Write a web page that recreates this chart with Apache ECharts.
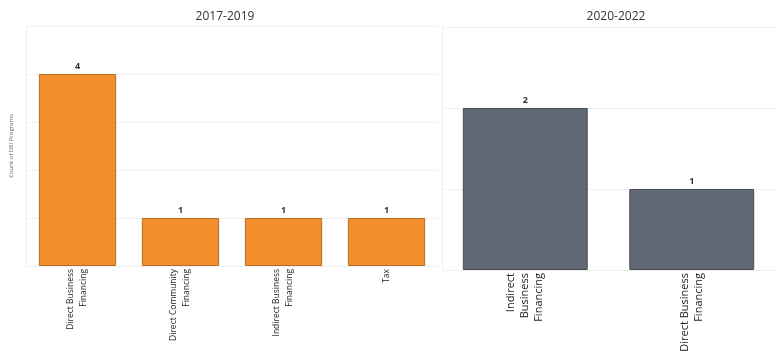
<!DOCTYPE html>
<html>
<head>
<meta charset="utf-8">
<script src="https://cdn.jsdelivr.net/npm/echarts@6/dist/echarts.min.js"></script>
<style>html,body{margin:0;padding:0;background:#fff}#c{width:780px;height:357px}</style>
</head>
<body>
<div id="c"></div>
<script>
const panelTitles = ['2017-2019', '2020-2022'];
const cats1 = ['Direct Business\nFinancing', 'Direct Community\nFinancing', 'Indirect Business\nFinancing', 'Tax'];
const vals1 = [4, 1, 1, 1];
const cats2 = ['Indirect\nBusiness\nFinancing', 'Direct Business\nFinancing'];
const vals2 = [2, 1];
const yName = 'Count of DEI Programs';

const chart = echarts.init(document.getElementById('c'));
const font = 'Open Sans';
chart.setOption({
  animation: false,
  title: [
    {text: panelTitles[0], left: 220, top: 6, textAlign: 'center', textStyle: {fontFamily: font, fontSize: 12, fontWeight: 'normal', color: '#333'}},
    {text: panelTitles[1], left: 611, top: 6, textAlign: 'center', textStyle: {fontFamily: font, fontSize: 12, fontWeight: 'normal', color: '#333'}}
  ],
  grid: [
    {left: 26, right: 342, top: 26, bottom: 91, outerBoundsMode: 'none', containLabel: false},
    {left: 442, right: 5, top: 27, bottom: 87, outerBoundsMode: 'none', containLabel: false}
  ],
  xAxis: [
    {type: 'category', gridIndex: 0, data: cats1, axisLine: {show: false}, axisTick: {show: false},
     axisLabel: {rotate: 90, interval: 0, fontFamily: font, fontSize: 8.5, lineHeight: 13, color: '#222', margin: 3}},
    {type: 'category', gridIndex: 1, data: cats2, axisLine: {show: false}, axisTick: {show: false},
     axisLabel: {rotate: 90, interval: 0, fontFamily: font, fontSize: 11, lineHeight: 14, color: '#222', margin: 3}}
  ],
  yAxis: [
    {type: 'value', gridIndex: 0, min: 0, max: 5, interval: 1, axisLabel: {show: false}, axisTick: {show: false},
     axisLine: {show: true, lineStyle: {color: '#eeeeee'}}, splitLine: {lineStyle: {color: '#f0f0f0'}},
     name: yName, nameLocation: 'middle', nameGap: 12, nameRotate: 90,
     nameTextStyle: {fontFamily: font, fontSize: 6, color: '#666'}},
    {type: 'value', gridIndex: 1, min: 0, max: 3, interval: 1, axisLabel: {show: false}, axisTick: {show: false},
     axisLine: {show: true, lineStyle: {color: '#eeeeee'}}, splitLine: {lineStyle: {color: '#f0f0f0'}}}
  ],
  series: [
    {type: 'bar', xAxisIndex: 0, yAxisIndex: 0, data: vals1, barCategoryGap: '25%',
     itemStyle: {color: '#f28e2b', borderColor: '#b96b26', borderWidth: 1},
     label: {show: true, position: 'top', distance: 3, fontFamily: font, fontSize: 9, fontWeight: 'bold', color: '#333'}},
    {type: 'bar', xAxisIndex: 1, yAxisIndex: 1, data: vals2, barCategoryGap: '25%',
     itemStyle: {color: '#5f6873', borderColor: '#454c54', borderWidth: 1},
     label: {show: true, position: 'top', distance: 3, fontFamily: font, fontSize: 9, fontWeight: 'bold', color: '#333'}}
  ]
});
</script>
</body>
</html>
